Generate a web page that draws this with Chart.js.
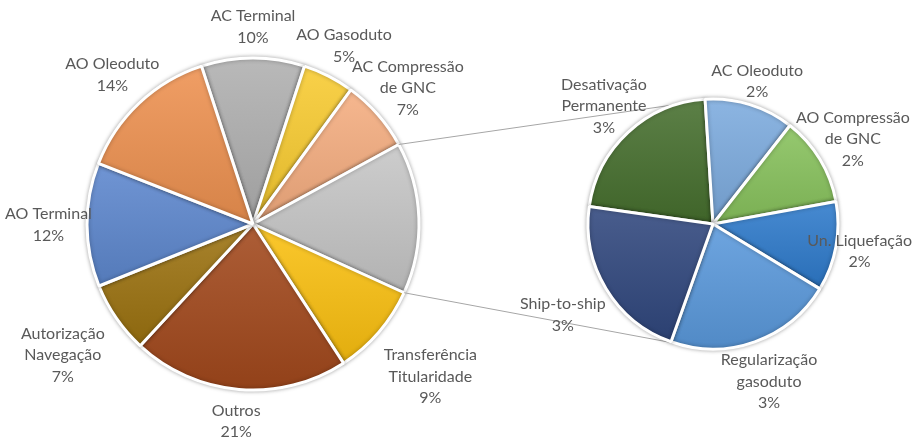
<!DOCTYPE html>
<html>
<head>
<meta charset="utf-8">
<script src="https://cdn.jsdelivr.net/npm/chart.js@4.4.1/dist/chart.umd.min.js"></script>
<style>
  body { margin: 0; background: #fff; }
  #wrap { position: relative; width: 917px; height: 437px; }
  #wrap canvas { position: absolute; left: 0; top: 0; }
</style>
</head>
<body>
<div id="wrap">
  <canvas id="main-pie" width="917" height="437"></canvas>
  <canvas id="sub-pie" width="917" height="437"></canvas>
</div>
<script>
// secondary pie (detail of the grey slice)
const subNames = ['Desativação\nPermanente', 'AC Oleoduto', 'AO Compressão\nde GNC', 'Un. Liquefação', 'Regularização\ngasoduto', 'Ship-to-ship'];
const subValues = [3.2, 1.7, 1.7, 1.7, 3.2, 3.2];
const subColors = ['#466f2e', '#7cabde', '#88c25c', '#2e7acb', '#5a99dc', '#30477d'];

// main pie, slot 3 is the group shown in the secondary pie
const mainNames = ['AC Terminal', 'AO Gasoduto', 'AC Compressão\nde GNC', 'Detalhe', 'Transferência\nTitularidade', 'Outros', 'Autorização\nNavegação', 'AO Terminal', 'AO Oleoduto'];
const mainValues = [10, 5, 7, subValues.reduce((a, b) => a + b, 0), 9, 21, 7, 12, 14];
const mainColors = ['#afafaf', '#f8cb30', '#f5ad80', '#c6c6c6', '#fbc010', '#a2481c', '#9c7210', '#5d87ce', '#ee9150'];

const GRAND_TOTAL = mainValues.reduce((a, b) => a + b, 0);
const FONT = '16px Lato';
const LINE_H = 21.5;
const TEXT_COLOR = '#595959';
const MAIN_R = 166;
const SUB_R = 125;

function shade(hex, amt) {
  const n = parseInt(hex.slice(1), 16);
  const rgb = [n >> 16, (n >> 8) & 255, n & 255].map(c =>
    Math.round(amt >= 0 ? c + (255 - c) * amt : c * (1 + amt)));
  return `rgb(${rgb.join(',')})`;
}

// vertical gradient spanning each slice's own extent
function sliceFill(colors, rotation, r) {
  return (c) => {
    const base = colors[c.dataIndex];
    const area = c.chart.chartArea;
    if (!area) return base;
    const data = c.dataset.data;
    const total = data.reduce((a, b) => a + b, 0);
    const before = data.slice(0, c.dataIndex).reduce((a, b) => a + b, 0);
    const a0 = (rotation - 90) * Math.PI / 180 + before / total * 2 * Math.PI;
    const a1 = a0 + data[c.dataIndex] / total * 2 * Math.PI;
    const cy = (area.top + area.bottom) / 2;
    const ys = [cy, cy + r * Math.sin(a0), cy + r * Math.sin(a1)];
    for (let k = -3; k <= 3; k++) {
      const t = Math.PI / 2 * k;
      if (t >= a0 && t <= a1 && k % 2 !== 0) ys.push(cy + r * Math.sin(t));
    }
    const g = c.chart.ctx.createLinearGradient(0, Math.min(...ys), 0, Math.max(...ys));
    g.addColorStop(0, shade(base, 0.12));
    g.addColorStop(1, shade(base, -0.1));
    return g;
  };
}

function pct(v) {
  return Math.round(v / GRAND_TOTAL * 100) + '%';
}

// push the text block out along the slice's mid angle until it clears the pie
function placeLabel(ctx, cx, cy, r, ang, lines, W, gap) {
  const widths = lines.map(l => ctx.measureText(l).width);
  const h = lines.length * LINE_H;
  const ux = Math.cos(ang), uy = Math.sin(ang);
  const half = 6, margin = 5;
  const maxW = Math.max(...widths);
  for (let d = r * 0.5; d < r + 250; d += 1) {
    let bx = cx + ux * d, by = cy + uy * d;
    bx = Math.min(Math.max(bx, maxW / 2 + margin), W - maxW / 2 - margin);
    let ok = true;
    lines.forEach((l, i) => {
      const ly = by - h / 2 + LINE_H * (i + 0.5);
      const nx = Math.min(Math.max(cx, bx - widths[i] / 2), bx + widths[i] / 2);
      const ny = Math.min(Math.max(cy, ly - half), ly + half);
      if (Math.hypot(nx - cx, ny - cy) < r + gap) ok = false;
    });
    if (ok || Math.abs(bx - (cx + ux * d)) > 1) return { x: bx, y: by };
  }
  return { x: cx + ux * r, y: cy + uy * r };
}

const sliceLabels = {
  id: 'sliceLabels',
  afterDraw(chart, args, opts) {
    const ctx = chart.ctx;
    const meta = chart.getDatasetMeta(0);
    const values = chart.data.datasets[0].data;
    ctx.save();
    ctx.font = FONT;
    ctx.fillStyle = TEXT_COLOR;
    ctx.textAlign = 'center';
    ctx.textBaseline = 'middle';
    meta.data.forEach((arc, i) => {
      if (i === opts.skip) return;
      const lines = chart.data.labels[i].split('\n').concat(pct(values[i]));
      const mid = (arc.startAngle + arc.endAngle) / 2;
      const pos = placeLabel(ctx, arc.x, arc.y, arc.outerRadius, mid, lines, chart.width, opts.gap);
      lines.forEach((l, k) => {
        ctx.fillText(l, pos.x, pos.y - (lines.length - 1) * LINE_H / 2 + k * LINE_H);
      });
    });
    ctx.restore();
  }
};

const pieShadow = {
  id: 'pieShadow',
  beforeDatasetsDraw(chart) {
    chart.ctx.save();
    chart.ctx.shadowColor = 'rgba(0,0,0,0.3)';
    chart.ctx.shadowBlur = 4;
  },
  afterDatasetsDraw(chart) {
    chart.ctx.restore();
  }
};

const mainRotation = -(mainValues[0] / GRAND_TOTAL * 360) / 2;
const subRotation = -82;

const mainChart = new Chart(document.getElementById('main-pie'), {
  type: 'pie',
  data: {
    labels: mainNames,
    datasets: [{
      data: mainValues,
      backgroundColor: sliceFill(mainColors, mainRotation, MAIN_R),
      borderColor: '#ffffff',
      borderWidth: 3,
    }],
  },
  options: {
    responsive: false,
    animation: false,
    events: [],
    rotation: mainRotation,
    radius: MAIN_R,
    layout: { padding: { left: 87, right: 498, top: 58, bottom: 47 } },
    plugins: { legend: { display: false }, tooltip: { enabled: false }, sliceLabels: { skip: 3, gap: 14 } },
  },
  plugins: [pieShadow, sliceLabels],
});

// lines from the grey slice's corners to the secondary pie
const linkLines = {
  id: 'linkLines',
  beforeDatasetsDraw(chart) {
    const src = mainChart.getDatasetMeta(0).data[3];
    const dst = chart.getDatasetMeta(0).data[0];
    const tilt = 107 * Math.PI / 180;
    const ctx = chart.ctx;
    ctx.save();
    ctx.strokeStyle = '#a6a6a6';
    ctx.lineWidth = 1;
    ctx.beginPath();
    ctx.moveTo(src.x + src.outerRadius * Math.cos(src.startAngle), src.y + src.outerRadius * Math.sin(src.startAngle));
    ctx.lineTo(dst.x + dst.outerRadius * Math.cos(-tilt), dst.y + dst.outerRadius * Math.sin(-tilt));
    ctx.moveTo(src.x + src.outerRadius * Math.cos(src.endAngle), src.y + src.outerRadius * Math.sin(src.endAngle));
    ctx.lineTo(dst.x + dst.outerRadius * Math.cos(tilt), dst.y + dst.outerRadius * Math.sin(tilt));
    ctx.stroke();
    ctx.restore();
  }
};

new Chart(document.getElementById('sub-pie'), {
  type: 'pie',
  data: {
    labels: subNames,
    datasets: [{
      data: subValues,
      backgroundColor: sliceFill(subColors, subRotation, SUB_R),
      borderColor: '#ffffff',
      borderWidth: 3,
    }],
  },
  options: {
    responsive: false,
    animation: false,
    events: [],
    rotation: subRotation,
    radius: SUB_R,
    layout: { padding: { left: 588, right: 79, top: 99, bottom: 88 } },
    plugins: { legend: { display: false }, tooltip: { enabled: false }, sliceLabels: { skip: -1, gap: 5 } },
  },
  plugins: [linkLines, pieShadow, sliceLabels],
});
</script>
</body>
</html>
